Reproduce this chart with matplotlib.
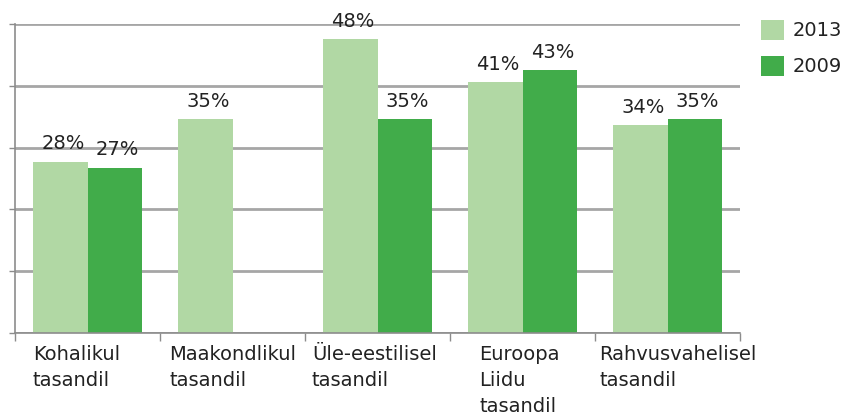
"""
plot.py
Grouped bar chart: 2013 vs 2009 by level.
"""

import numpy as np
import matplotlib.pyplot as plt

# Data
categories = ['Kohalikul\ntasandil', 'Maakondlikul\ntasandil', 'Üle-eestilisel\ntasandil',
              'Euroopa\nLiidu\ntasandil', 'Rahvusvahelisel\ntasandil']
years = ['2013', '2009']
v2013 = [28, 35, 48, 41, 34]
v2009 = [27, np.nan, 35, 43, 35]   # no 2009 value for Maakondlikul

# Colours
c2013 = '#b1d8a4'
c2009 = '#41ac4a'
axcol = '#8c8c8c'
gridcol = '#a6a6a6'

plt.rcParams['font.family'] = 'DejaVu Sans'
fs = 14

fig = plt.figure(figsize=(8.48, 4.17), dpi=100)
ax = fig.add_axes([0.0177, 0.2014, 0.8550, 0.7410])

x = np.arange(len(categories))
w = 0.375
b1 = ax.bar(x - w/2, v2013, w, color=c2013, label=years[0], zorder=2)
b2 = ax.bar(x + w/2, v2009, w, color=c2009, label=years[1], zorder=2)

# Value labels above each bar
for xs, vals in [(x - w/2, v2013), (x + w/2, v2009)]:
    for xi, v in zip(xs, vals):
        if np.isnan(v):
            continue
        ax.annotate('%d%%' % v, (xi, v), xytext=(2, 6), textcoords='offset points',
                    ha='center', va='bottom', fontsize=fs, color='#222222')

# Axes and grid
ax.set_xlim(-0.5, len(categories) - 0.5)
ax.set_ylim(0, 50.5)
ax.set_yticks(np.linspace(0, 50.5, 6))
ax.set_yticklabels([])
ax.yaxis.grid(True, color=gridcol, linewidth=2, zorder=0)
ax.set_axisbelow(True)
ax.tick_params(axis='y', length=4, width=1, color=axcol)

# Category labels, left aligned lines below each group
ax.set_xticks(x)
ax.set_xticklabels([])
ax.tick_params(axis='x', which='major', length=0)
lab_off = [-0.376, -0.438, -0.452, -0.30, -0.472]
trans = ax.get_xaxis_transform()
for xi, lab, off in zip(x, categories, lab_off):
    ax.text(xi + off, -0.04, lab, transform=trans, ha='left', va='top',
            fontsize=fs, linespacing=1.45, color='#222222')
ax.set_xticks(np.arange(len(categories) + 1) - 0.5, minor=True)
ax.tick_params(axis='x', which='minor', length=6, width=1, color=axcol)

for s in ['top', 'right']:
    ax.spines[s].set_visible(False)
for s in ['left', 'bottom']:
    ax.spines[s].set_color(axcol)
    ax.spines[s].set_linewidth(1.2)

# Legend at the top right
leg = fig.legend(loc='upper left', bbox_to_anchor=(761/848, 1 - 20/417), frameon=False,
                 fontsize=fs, handlelength=1.18, handleheight=1.18, handletextpad=0.45,
                 labelspacing=0.8, borderpad=0, borderaxespad=0)
for t in leg.get_texts():
    t.set_color('#222222')

plt.savefig('out.png', dpi=100)
